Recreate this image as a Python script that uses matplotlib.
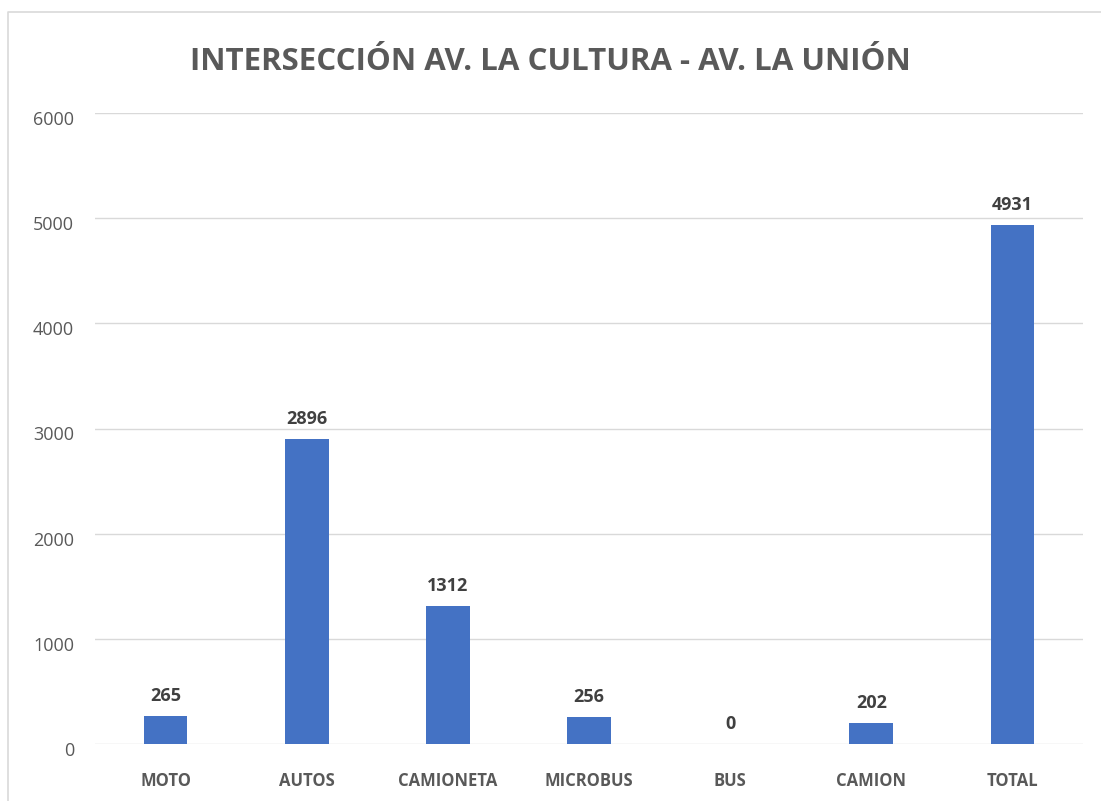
import matplotlib
matplotlib.use("Agg")
import matplotlib.pyplot as plt
from matplotlib.lines import Line2D

categories = ["MOTO", "AUTOS", "CAMIONETA", "MICROBUS", "BUS", "CAMION", "TOTAL"]
values = [265, 2896, 1312, 256, 0, 202, 4931]
yticks = [0, 1000, 2000, 3000, 4000, 5000, 6000]

BLUE = "#4472C4"
GRID = "#D9D9D9"
TXT = "#595959"
LBL = "#404040"

plt.rcParams["font.family"] = ["Open Sans", "DejaVu Sans"]

W, H = 1101, 801
fig = plt.figure(figsize=(W / 100, H / 100), dpi=100)
ax = fig.add_axes([95 / W, 1 - 744 / H, (1083 - 95) / W, (744 - 113) / H])

x = range(len(categories))
ax.bar(x, values, width=0.31, color=BLUE, zorder=2)
ax.set_xlim(-0.5, len(categories) - 0.5)
ax.set_ylim(0, 6000)
ax.set_yticks(yticks)
ax.set_yticklabels([str(t) for t in yticks], color=TXT, fontsize=13, va="top")
ax.set_xticks(list(x))
ax.set_xticklabels(categories, color=TXT, fontsize=12, fontweight="bold")
ax.tick_params(axis="both", length=0)
ax.tick_params(axis="y", pad=15)
ax.tick_params(axis="x", pad=20)
ax.grid(axis="y", color=GRID, linewidth=1, zorder=0)
for s in ax.spines.values():
    s.set_visible(False)
for lbl in ax.get_yticklabels():
    lbl.set_y(lbl.get_position()[1])
    lbl.set_va("center")
    lbl.set_transform(lbl.get_transform() + matplotlib.transforms.ScaledTranslation(0, -5 / 72, fig.dpi_scale_trans))

for i, v in enumerate(values):
    ax.annotate(str(v), (i, v), xytext=(0, 8), textcoords="offset points",
                ha="center", va="bottom", fontsize=13, fontweight="bold", color=LBL)

fig.text(0.5, 1 - 62 / H, "INTERSECCIÓN AV. LA CULTURA - AV. LA UNIÓN",
         ha="center", va="center", fontsize=22.5, fontweight="bold", color=TXT)

# chart frame (only top and left edges visible in the crop)
fig.add_artist(Line2D([8 / W, 8 / W, 1], [0, 1 - 12 / H, 1 - 12 / H],
                      transform=fig.transFigure, color=GRID, linewidth=1.2))

fig.savefig("out.png", dpi=100)
